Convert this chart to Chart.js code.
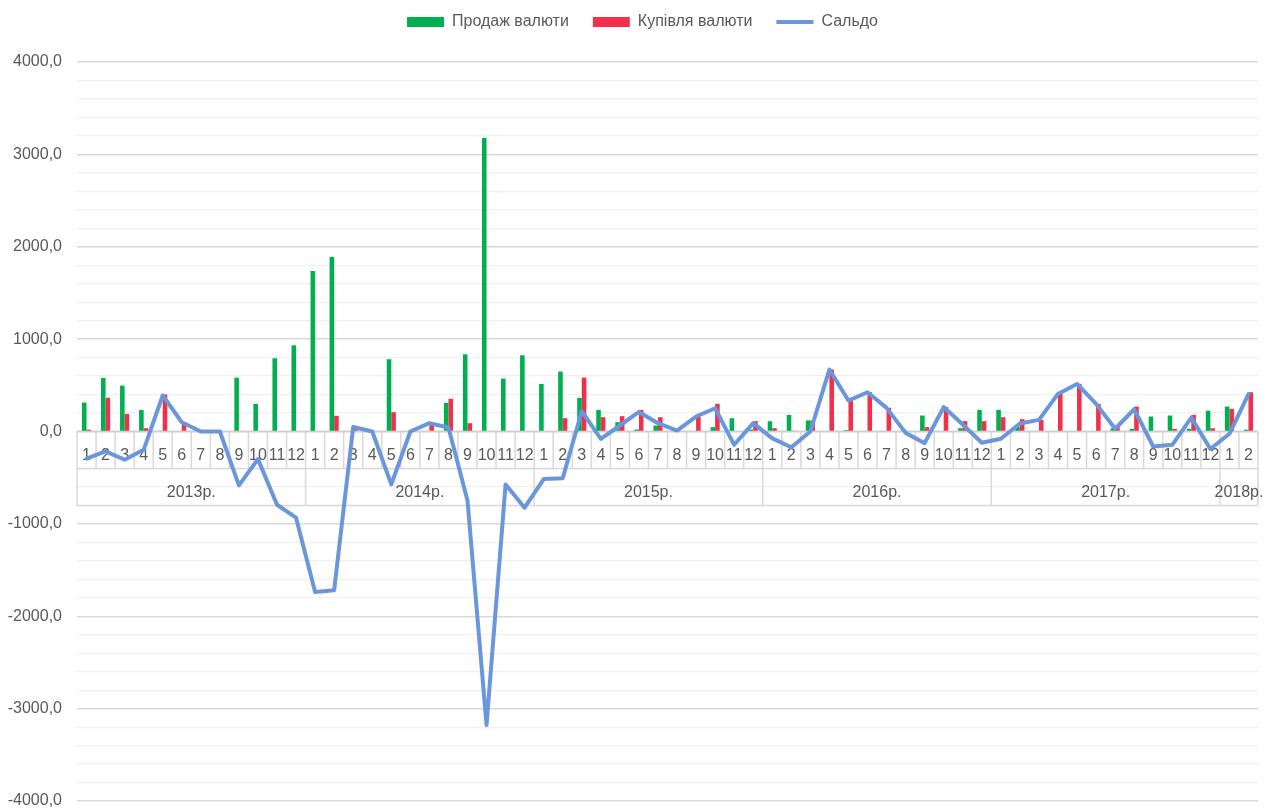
<!DOCTYPE html>
<html>
<head>
<meta charset="utf-8">
<script src="https://cdn.jsdelivr.net/npm/chart.js@4"></script>
<style>
  html, body { margin: 0; padding: 0; background: #fff; }
  #wrap { width: 1270px; height: 812px; }
</style>
</head>
<body>
<div id="wrap"><canvas id="fxChart"></canvas></div>
<script>
// місяці та роки (дворівнева вісь)
const years = ['2013р.', '2014р.', '2015р.', '2016р.', '2017р.', '2018р.'];
const monthsPerYear = [12, 12, 12, 12, 12, 2];
const months = [];
monthsPerYear.forEach(n => { for (let m = 1; m <= n; m++) months.push(String(m)); });

// значення
const sales = [
    314, 580, 497, 234, 10, 0, 0, 0, 583, 299, 793, 933,
    1737, 1889, 0, 0, 782, 0, 0, 310, 836, 3178, 573, 825,
    515, 649, 364, 234, 101, 22, 65, 0, 0, 47, 144, 22,
    111, 180, 120, 0, 15, 0, 0, 25, 173, 0, 36, 234,
    234, 47, 0, 0, 0, 0, 35, 29, 162, 173, 30, 225,
    270, 20
];
const purchases = [
    20, 364, 191, 36, 400, 100, 0, 0, 0, 0, 0, 0,
    0, 170, 50, 0, 209, 0, 90, 354, 90, 0, 0, 0,
    0, 144, 584, 155, 166, 234, 155, 10, 162, 299, 0, 112,
    36, 10, 120, 670, 350, 425, 256, 10, 47, 265, 112, 112,
    155, 133, 126, 407, 515, 299, 65, 270, 0, 29, 180, 35,
    245, 425
];
const balance = [
    -294, -216, -306, -198, 390, 100, 0, 0, -583, -299, -793, -933,
    -1737, -1719, 50, 0, -573, 0, 90, 44, -746, -3178, -573, -825,
    -515, -505, 220, -79, 65, 212, 90, 10, 162, 252, -144, 90,
    -75, -170, 0, 670, 335, 425, 256, -15, -126, 265, 76, -122,
    -79, 86, 126, 407, 515, 299, 30, 241, -162, -144, 150, -190,
    -25, 405
];

const textColor = '#595959';
const fontFamily = "'Liberation Sans', Arial, sans-serif";

// легенда займає більше місця, щоб опустити область графіка
const legendSpace = {
    id: 'legendSpace',
    beforeInit(chart) {
        const fit = chart.legend.fit;
        chart.legend.fit = function () {
            fit.call(this);
            this.height += 22;
        };
    },
    afterLayout(chart) {
        // трохи правіше, як в оригіналі
        chart.legend.left += 11;
        chart.legend.right += 11;
    }
};

// таблиця підписів категорій біля нульової лінії
const categoryTable = {
    id: 'categoryTable',
    beforeDatasetsDraw(chart) {
        const ctx = chart.ctx;
        const x = chart.scales.x;
        const y = chart.scales.y;
        const area = chart.chartArea;
        const y0 = y.getPixelForValue(0);
        const y1 = y.getPixelForValue(-400);
        const y2 = y.getPixelForValue(-800);
        const step = x.getPixelForValue(1) - x.getPixelForValue(0);

        ctx.save();
        ctx.fillStyle = '#ffffff';
        ctx.fillRect(area.left, y0, area.right - area.left, y1 - y0);

        ctx.strokeStyle = '#D9D9D9';
        ctx.lineWidth = 1.5;
        ctx.beginPath();
        ctx.moveTo(area.left, y1); ctx.lineTo(area.right, y1);
        ctx.moveTo(area.left, y2); ctx.lineTo(area.right, y2);
        ctx.stroke();

        // вертикальні розділювачі
        const yearEnds = [];
        let acc = 0;
        monthsPerYear.forEach(n => { acc += n; yearEnds.push(acc); });
        ctx.beginPath();
        for (let i = 0; i <= months.length; i++) {
            const px = Math.min(x.getPixelForValue(i) - step / 2, area.right);
            const full = i === 0 || i === months.length || yearEnds.includes(i);
            ctx.moveTo(px, y0);
            ctx.lineTo(px, full ? y2 : y1);
        }
        ctx.stroke();

        // нульова лінія
        ctx.strokeStyle = '#D0D0D0';
        ctx.lineWidth = 2;
        ctx.beginPath();
        ctx.moveTo(area.left, y0); ctx.lineTo(area.right, y0);
        ctx.stroke();

        ctx.fillStyle = textColor;
        ctx.textAlign = 'center';
        ctx.textBaseline = 'middle';
        ctx.font = '16px ' + fontFamily;
        months.forEach((m, i) => {
            ctx.fillText(m, x.getPixelForValue(i), (y0 + y1) / 2 + 6);
        });
        let start = 0;
        years.forEach((yr, k) => {
            const end = start + monthsPerYear[k] - 1;
            const cx = (x.getPixelForValue(start) + x.getPixelForValue(end)) / 2;
            ctx.fillText(yr, cx, (y1 + y2) / 2 + 6);
            start = end + 1;
        });
        ctx.restore();
    }
};

new Chart(document.getElementById('fxChart'), {
    type: 'bar',
    data: {
        labels: months,
        datasets: [
            {
                label: 'Продаж валюти',
                data: sales,
                backgroundColor: '#00B050',
                borderWidth: 0,
                pointStyle: 'rect',
                barPercentage: 1,
                categoryPercentage: 0.48
            },
            {
                label: 'Купівля валюти',
                data: purchases,
                backgroundColor: '#F2304B',
                borderWidth: 0,
                pointStyle: 'rect',
                barPercentage: 1,
                categoryPercentage: 0.48
            },
            {
                type: 'line',
                label: 'Сальдо',
                data: balance,
                borderColor: '#6A96DB',
                backgroundColor: '#6A96DB',
                borderWidth: 4,
                borderJoinStyle: 'round',
                borderCapStyle: 'round',
                pointRadius: 0,
                pointStyle: 'line',
                tension: 0,
                order: -1
            }
        ]
    },
    options: {
        responsive: true,
        maintainAspectRatio: false,
        animation: false,
        layout: { padding: { left: 5, right: 12, top: -10, bottom: 11 } },
        plugins: {
            tooltip: { enabled: false },
            legend: {
                position: 'top',
                labels: {
                    usePointStyle: true,
                    pointStyleWidth: 37,
                    boxHeight: 10,
                    padding: 24,
                    color: textColor,
                    font: { family: fontFamily, size: 16 },
                    sort: (a, b) => a.datasetIndex - b.datasetIndex
                }
            }
        },
        scales: {
            x: {
                display: false,
                offset: true,
                grid: { display: false }
            },
            y: {
                min: -4000,
                max: 4000,
                afterFit: scale => {
                    scale.width = 72;
                    scale.paddingTop = 0;
                    scale.paddingBottom = 0;
                },
                border: { display: false },
                grid: {
                    drawTicks: false,
                    color: ctx => (ctx.tick.value % 1000 === 0 ? '#D9D9D9' : '#F0F0F0'),
                    lineWidth: ctx => (ctx.tick.value % 1000 === 0 ? 1.5 : 1.2)
                },
                ticks: {
                    stepSize: 200,
                    padding: 15,
                    color: textColor,
                    font: { family: fontFamily, size: 16 },
                    autoSkip: false,
                    callback: v => (v % 1000 === 0 ? v.toFixed(1).replace('.', ',') : '')
                }
            }
        }
    },
    plugins: [legendSpace, categoryTable]
});
</script>
</body>
</html>
